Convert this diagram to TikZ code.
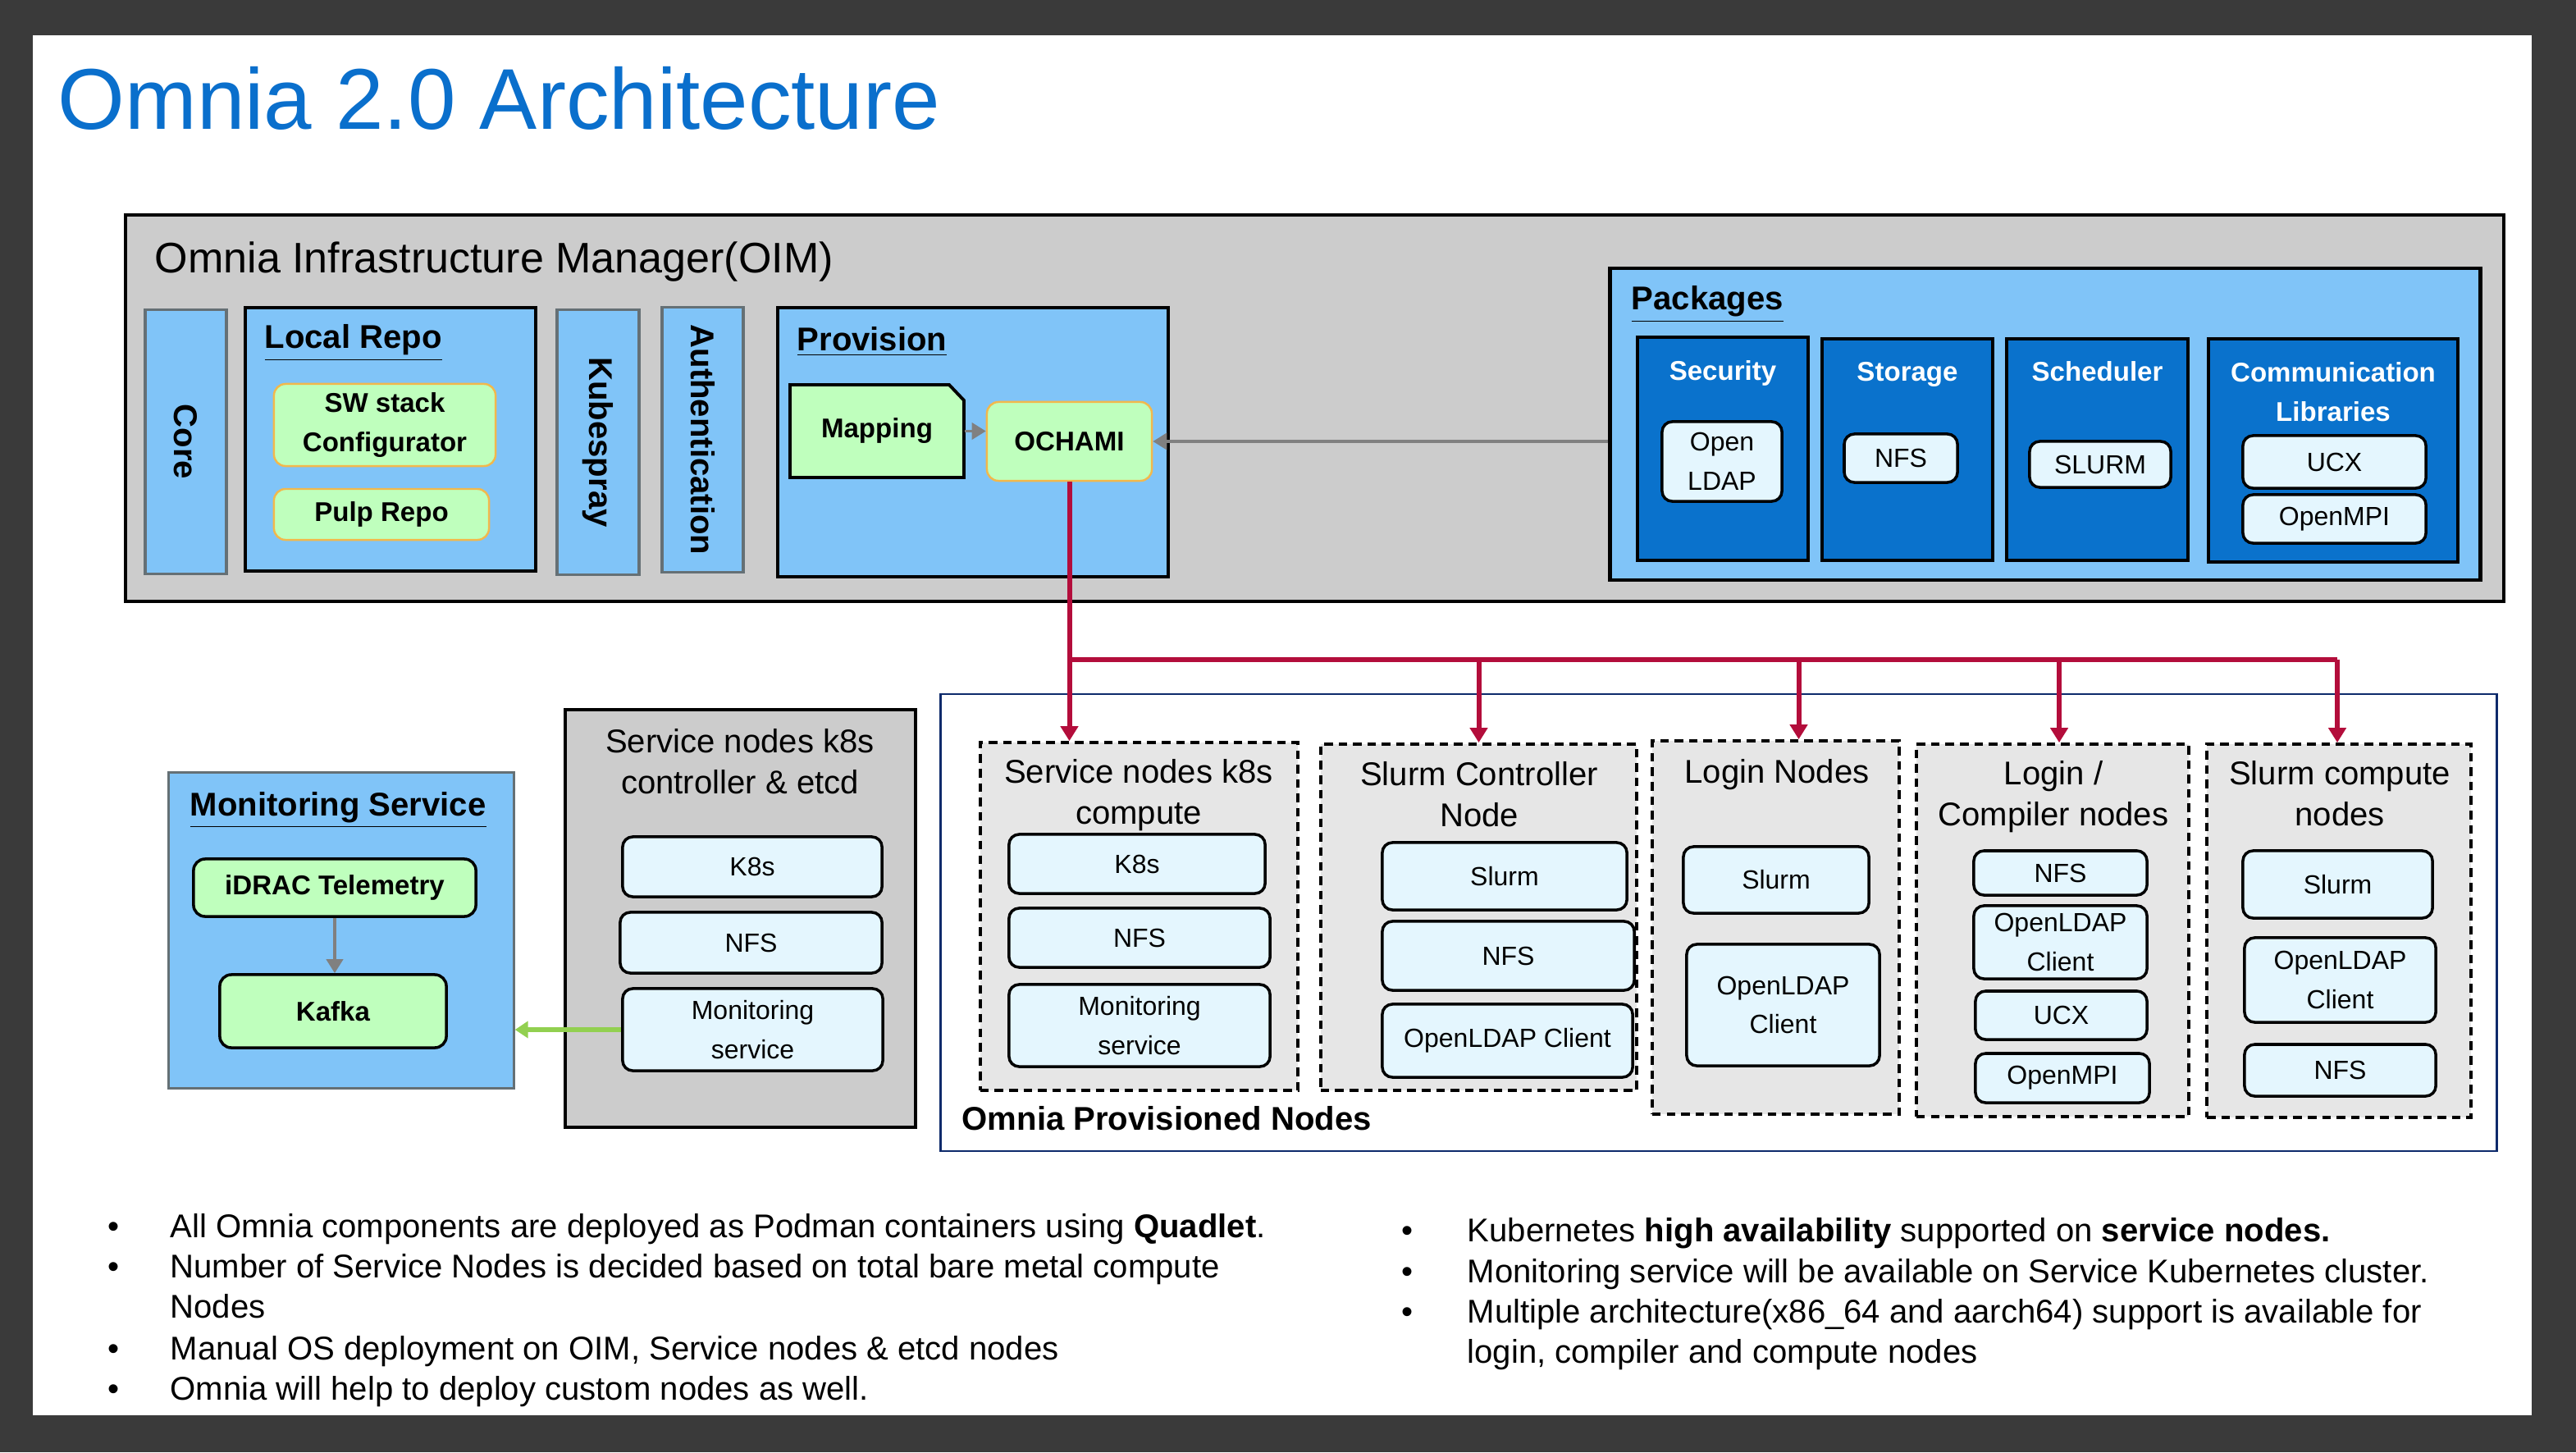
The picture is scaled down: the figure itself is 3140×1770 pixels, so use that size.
\documentclass[tikz,border=0pt]{standalone}
\usepackage{fontspec}
\setmainfont{Liberation Sans}
\usetikzlibrary{arrows.meta,positioning}

\definecolor{slidebg}{HTML}{3A3A3A}
\definecolor{titleblue}{HTML}{0A6FCC}
\definecolor{oimgray}{HTML}{CCCCCC}
\definecolor{skyblue}{HTML}{80C4F8}
\definecolor{edgegray}{HTML}{657075}
\definecolor{mint}{HTML}{BFFFBD}
\definecolor{edgeorange}{HTML}{F2B84C}
\definecolor{pkgblue}{HTML}{0A72CC}
\definecolor{paleblue}{HTML}{E4F6FE}
\definecolor{groupgray}{HTML}{E6E6E6}
\definecolor{crimson}{HTML}{B30D3B}
\definecolor{navy}{HTML}{0D2A6B}
\definecolor{arrowgray}{HTML}{808080}
\definecolor{limegreen}{HTML}{92D050}

\begin{document}
\begin{tikzpicture}[x=0.01cm, y=-0.01cm,
        oimbox/.style={draw=black, line width=1.3pt, fill=oimgray, inner sep=0pt},
        bluebox/.style={draw=black, line width=1.1pt, fill=skyblue, inner sep=0pt},
        slimbox/.style={draw=edgegray, line width=0.9pt, fill=skyblue, rotate=-90, inner sep=0pt, font=\fontsize{11.4}{13}\selectfont\bfseries},
        greenbox/.style={draw=edgeorange, line width=0.7pt, fill=mint, rounded corners=4pt, align=center, inner sep=0pt, font=\fontsize{9.4}{13.6}\selectfont\bfseries},
        pkgcol/.style={draw=black, line width=1.1pt, fill=pkgblue, inner sep=0pt},
        item/.style={draw=black, line width=1pt, fill=paleblue, rounded corners=3.5pt, align=center, inner sep=0pt, font=\fontsize{9.1}{13.6}\selectfont},
        group/.style={draw=black, line width=1pt, dash pattern=on 3pt off 2pt, fill=groupgray, inner sep=0pt},
        grouptitle/.style={anchor=base, align=center, inner sep=0pt, font=\fontsize{11.4}{14.2}\selectfont},
        section/.style={anchor=base west, inner sep=0pt, font=\fontsize{11.4}{13}\selectfont\bfseries},
        coltitle/.style={anchor=base, align=center, inner sep=0pt, text=white, font=\fontsize{9.4}{13.6}\selectfont\bfseries},
        bullet/.style={anchor=base west, align=left, inner sep=0pt, font=\fontsize{11.4}{13.9}\selectfont},
        dot/.style={anchor=base, inner sep=0pt, font=\fontsize{11.4}{13.9}\selectfont},
        wire/.style={draw=crimson, line width=1.7pt},
        feed/.style={wire, -{Triangle[width=0.21cm,length=0.18cm]}},
        grayarrow/.style={draw=arrowgray, line width=1.1pt, -{Triangle[width=0.2cm,length=0.17cm]}},
        greenarrow/.style={draw=limegreen, line width=1.9pt, -{Triangle[width=0.2cm,length=0.16cm]}}
    ]
    \useasboundingbox (0,0) rectangle (3140,1770);
    \fill[slidebg] (0,0) rectangle (3140,1770);
    \fill[white] (40,43) rectangle (3086,1725);

    \node[anchor=base west, inner sep=0pt, text=titleblue, font=\fontsize{29.9}{34}\selectfont] (title) at (70,158) {Omnia 2.0 Architecture};

    \node[oimbox, minimum width=28.97cm, minimum height=4.71cm] (oim) at (1602.5,497.5) {};
    \node[anchor=base west, inner sep=0pt, font=\fontsize{14.8}{17}\selectfont] (oimlabel) at (188,333) {Omnia Infrastructure Manager(OIM)};

    \node[slimbox, minimum width=3.21cm, minimum height=0.99cm] (core) at (226.5,538.5) {Core};
    \node[bluebox, minimum width=3.54cm, minimum height=3.21cm] (localrepo) at (476,535.5) {};
    \node[section] (localrepolabel) at (322,425) {\underline{Local Repo}};
    \node[greenbox, minimum width=2.70cm, minimum height=1.00cm] (swstack) at (469,518) {SW stack\\Configurator};
    \node[greenbox, minimum width=2.62cm, minimum height=0.62cm] (pulp) at (465,627) {Pulp Repo};
    \node[slimbox, minimum width=3.22cm, minimum height=1.00cm] (kubespray) at (729,539) {Kubespray};
    \node[slimbox, minimum width=3.22cm, minimum height=0.99cm] (auth) at (856.5,536) {Authentication};

    \node[bluebox, line width=1.3pt, minimum width=4.76cm, minimum height=3.28cm] (provision) at (1186,539) {};
    \node[section] (provisionlabel) at (971,427) {\underline{Provision}};
    \draw[line width=1.1pt, fill=mint] (963,582) -- (963,469) -- (1157,469) -- (1175,488) -- (1175,582) -- cycle;
    \node[inner sep=0pt, minimum width=2.12cm, minimum height=1.13cm, font=\fontsize{9.4}{13.6}\selectfont\bfseries] (mapping) at (1069,525.5) {Mapping};
    \node[greenbox, minimum width=2.01cm, minimum height=0.96cm] (ochami) at (1303.5,538) {OCHAMI};

    \node[bluebox, line width=1.3pt, minimum width=10.60cm, minimum height=3.80cm] (packages) at (2493,517) {};
    \node[section] (packageslabel) at (1988,378) {\underline{Packages}};
    \node[pkgcol, minimum width=2.08cm, minimum height=2.72cm] (security) at (2100,547) {};
    \node[coltitle] (securitylabel) at (2100,463) {Security};
    \node[item, minimum width=1.46cm, minimum height=0.97cm] (openldap) at (2099,562.5) {Open\\LDAP};
    \node[pkgcol, minimum width=2.08cm, minimum height=2.70cm] (storage) at (2325,548) {};
    \node[coltitle] (storagelabel) at (2325,465) {Storage};
    \node[item, minimum width=1.38cm, minimum height=0.59cm] (pkgnfs) at (2317,558.5) {NFS};
    \node[pkgcol, minimum width=2.21cm, minimum height=2.70cm] (scheduler) at (2556.5,548) {};
    \node[coltitle] (schedulerlabel) at (2556.5,465) {Scheduler};
    \node[item, minimum width=1.72cm, minimum height=0.56cm] (pkgslurm) at (2560,566) {SLURM};
    \node[pkgcol, minimum width=3.04cm, minimum height=2.72cm] (commlib) at (2844,549) {};
    \node[coltitle] (commliblabel) at (2844,513) {Communication\\Libraries};
    \node[item, minimum width=2.23cm, minimum height=0.64cm] (pkgucx) at (2845.5,563) {UCX};
    \node[item, minimum width=2.23cm, minimum height=0.59cm] (pkgmpi) at (2845.5,632.5) {OpenMPI};

    \node[draw=edgegray, line width=0.9pt, fill=skyblue, inner sep=0pt, minimum width=4.20cm, minimum height=3.84cm] (monsvc) at (416,1134) {};
    \node[section] (monsvclabel) at (231,994) {\underline{Monitoring Service}};
    \node[greenbox, draw=black, line width=1pt, minimum width=3.44cm, minimum height=0.70cm] (idrac) at (408,1082) {iDRAC Telemetry};
    \node[greenbox, draw=black, line width=1pt, minimum width=2.76cm, minimum height=0.89cm] (kafka) at (406,1232.5) {Kafka};

    \node[oimbox, minimum width=4.27cm, minimum height=5.09cm] (ctrlset) at (902.5,1119.5) {};
    \node[grouptitle] (ctrlsetlabel) at (902,967) {Service nodes k8s\\controller \& etcd};
    \node[item, minimum width=3.16cm, minimum height=0.73cm] (ctrlk8s) at (917,1056.5) {K8s};
    \node[item, minimum width=3.19cm, minimum height=0.74cm] (ctrlnfs) at (915.5,1149) {NFS};
    \node[item, minimum width=3.17cm, minimum height=1.00cm] (ctrlmon) at (917.5,1255) {Monitoring\\service};

    \node[draw=navy, line width=0.7pt, inner sep=0pt, minimum width=18.96cm, minimum height=5.57cm] (provnodes) at (2095,1124.5) {};
    \node[section] (provnodeslabel) at (1172,1377) {Omnia Provisioned Nodes};

    \node[group, minimum width=3.87cm, minimum height=4.24cm] (svccomp) at (1388.5,1117) {};
    \node[grouptitle] (svccomplabel) at (1388,1004) {Service nodes k8s\\compute};
    \node[item, minimum width=3.12cm, minimum height=0.72cm] (svck8s) at (1386,1053) {K8s};
    \node[item, minimum width=3.18cm, minimum height=0.72cm] (svcnfs) at (1389,1143) {NFS};
    \node[item, minimum width=3.18cm, minimum height=1.00cm] (svcmon) at (1389,1250) {Monitoring\\service};

    \node[group, minimum width=3.85cm, minimum height=4.22cm] (slurmctl) at (1802.5,1118) {};
    \node[grouptitle] (slurmctllabel) at (1803,1007) {Slurm Controller\\Node};
    \node[item, minimum width=2.98cm, minimum height=0.82cm] (ctlslurm) at (1834,1068) {Slurm};
    \node[item, minimum width=3.07cm, minimum height=0.84cm] (ctlnfs) at (1838.5,1165) {NFS};
    \node[item, minimum width=3.05cm, minimum height=0.89cm] (ctlldap) at (1837.5,1268.5) {OpenLDAP Client};

    \node[group, minimum width=3.01cm, minimum height=4.55cm] (login) at (2164.5,1130.5) {};
    \node[grouptitle] (loginlabel) at (2166,954) {Login Nodes};
    \node[item, minimum width=2.26cm, minimum height=0.81cm] (loginslurm) at (2165,1072.5) {Slurm};
    \node[item, minimum width=2.35cm, minimum height=1.48cm] (loginldap) at (2173.5,1225) {OpenLDAP\\Client};

    \node[group, minimum width=3.32cm, minimum height=4.54cm] (compiler) at (2502,1134) {};
    \node[grouptitle] (compilerlabel) at (2503,1006) {Login /\\Compiler nodes};
    \node[item, minimum width=2.11cm, minimum height=0.54cm] (compnfs) at (2511.5,1064) {NFS};
    \node[item, minimum width=2.11cm, minimum height=0.89cm] (compldap) at (2511.5,1148.5) {OpenLDAP\\Client};
    \node[item, minimum width=2.09cm, minimum height=0.59cm] (compucx) at (2512.5,1237.5) {UCX};
    \node[item, minimum width=2.12cm, minimum height=0.60cm] (compmpi) at (2514,1314) {OpenMPI};

    \node[group, minimum width=3.22cm, minimum height=4.55cm] (slurmcn) at (2851,1134.5) {};
    \node[grouptitle] (slurmcnlabel) at (2852,1006) {Slurm compute\\nodes};
    \node[item, minimum width=2.31cm, minimum height=0.82cm] (cnslurm) at (2849.5,1078) {Slurm};
    \node[item, minimum width=2.33cm, minimum height=1.03cm] (cnldap) at (2852.5,1194.5) {OpenLDAP\\Client};
    \node[item, minimum width=2.33cm, minimum height=0.63cm] (cnnfs) at (2852.5,1304.5) {NFS};

    \coordinate (busL) at (1303.5,804);
    \coordinate (busR) at (2849,804);
    \draw[feed] (ochami.south) -- (ochami.south |- svccomp.north);
    \draw[wire] (busL) -- (busR);
    \draw[feed] (slurmctl.north |- busL) -- (slurmctl.north);
    \draw[feed] ([xshift=0.28cm]login.north |- busL) -- ([xshift=0.28cm]login.north);
    \draw[feed] ([xshift=0.08cm]compiler.north |- busL) -- ([xshift=0.08cm]compiler.north);
    \draw[feed] (busR) -- (busR |- slurmcn.north);

    \draw[grayarrow] (packages.west |- ochami.east) -- (ochami.east);
    \draw[grayarrow] (mapping.east) -- (mapping.east -| ochami.west);
    \draw[grayarrow] (idrac.south) -- (idrac.south |- kafka.north);
    \draw[greenarrow] (ctrlmon.west) -- (ctrlmon.west -| monsvc.east);

    \foreach \y [count=\i] in {1508,1557,1657,1706}
        \node[dot] (ldot\i) at (139,\y) {\textbullet};
    \node[bullet] (lnote1) at (207,1508) {All Omnia components are deployed as Podman containers using \textbf{Quadlet}.};
    \node[bullet] (lnote2) at (207,1606) {Number of Service Nodes is decided based on total bare metal compute\\Nodes};
    \node[bullet] (lnote3) at (207,1657) {Manual OS deployment on OIM, Service nodes \& etcd nodes};
    \node[bullet] (lnote4) at (207,1706) {Omnia will help to deploy custom nodes as well.};

    \foreach \y [count=\i] in {1513,1563,1612}
        \node[dot] (rdot\i) at (1715,\y) {\textbullet};
    \node[bullet] (rnote1) at (1788,1513) {Kubernetes \textbf{high availability} supported on \textbf{service nodes.}};
    \node[bullet] (rnote2) at (1788,1563) {Monitoring service will be available on Service Kubernetes cluster.};
    \node[bullet] (rnote3) at (1788,1661) {Multiple architecture(x86\_64 and aarch64) support is available for\\login, compiler and compute nodes};
\end{tikzpicture}
\end{document}
